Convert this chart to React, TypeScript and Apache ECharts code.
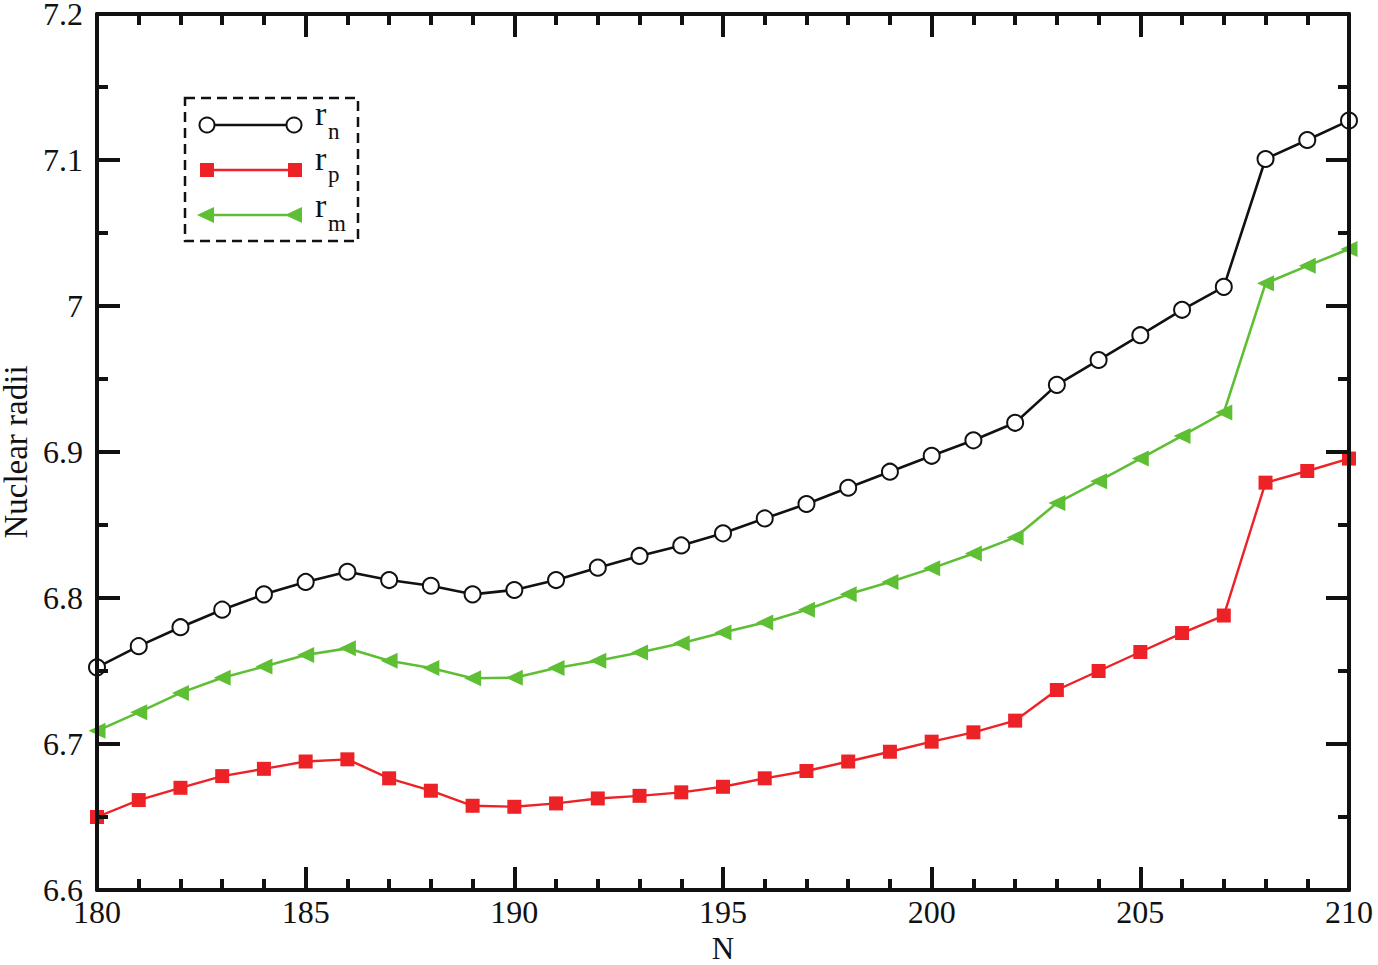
import React, { useEffect, useRef } from "react";
import * as echarts from "echarts";

const N: number[] = [
  180, 181, 182, 183, 184, 185, 186, 187, 188, 189, 190,
  191, 192, 193, 194, 195, 196, 197, 198, 199, 200,
  201, 202, 203, 204, 205, 206, 207, 208, 209, 210,
];
const rn: number[] = [
  6.7525, 6.767, 6.78, 6.792, 6.8025, 6.811, 6.818, 6.8123, 6.8084, 6.8025, 6.8055,
  6.8123, 6.8208, 6.8288, 6.836, 6.8443, 6.8545, 6.8644, 6.8755, 6.8865, 6.8974,
  6.908, 6.92, 6.946, 6.963, 6.98, 6.9974, 7.0131, 7.1007, 7.1137, 7.127,
];
const rp: number[] = [
  6.65, 6.6616, 6.67, 6.678, 6.683, 6.688, 6.6895, 6.6765, 6.668, 6.6577, 6.657,
  6.6593, 6.6627, 6.6645, 6.6669, 6.6707, 6.6765, 6.6815, 6.688, 6.6947, 6.7016,
  6.708, 6.716, 6.737, 6.75, 6.763, 6.776, 6.788, 6.879, 6.887, 6.8955,
];
const rm: number[] = [
  6.709, 6.7217, 6.735, 6.7454, 6.753, 6.761, 6.7655, 6.757, 6.752, 6.745, 6.7454,
  6.752, 6.757, 6.7627, 6.769, 6.7764, 6.7833, 6.792, 6.8025, 6.811, 6.8203,
  6.8305, 6.8415, 6.865, 6.88, 6.8955, 6.911, 6.927, 7.0155, 7.0275, 7.039,
];
const legendNames: string[] = ["n", "p", "m"];

const FONT = "'Liberation Serif', 'DejaVu Serif', serif";
const AX = "#111111";
const RED = "#ec2227";
const GREEN = "#5fbf34";

function pairs(ys: number[]): number[][] {
  return N.map((x, i) => [x, ys[i]]);
}

export default function App() {
  const ref = useRef<HTMLDivElement>(null);
  useEffect(() => {
    if (!ref.current) return;
    const chart = echarts.init(ref.current, undefined, { renderer: "svg" });

    const axisCommon = {
      axisLine: { show: true, onZero: false, lineStyle: { color: AX, width: 4 } },
      axisTick: { show: true, inside: true, length: 23, lineStyle: { color: AX, width: 4 } },
      splitLine: { show: false },
      z: 10,
    };
    const labelStyle = { fontSize: 32, fontFamily: FONT, color: AX };

    const rowY = [125, 170, 215];
    const legendGraphics: any[] = [
      {
        type: "rect",
        shape: { x: 185, y: 98, width: 173, height: 143 },
        style: { fill: "none", stroke: AX, lineWidth: 2.5, lineDash: [10, 6] },
        z: 100,
      },
      { type: "line", shape: { x1: 207, y1: rowY[0], x2: 294, y2: rowY[0] }, style: { stroke: AX, lineWidth: 2.5 }, z: 100 },
      { type: "circle", shape: { cx: 207, cy: rowY[0], r: 7.5 }, style: { fill: "#fff", stroke: AX, lineWidth: 2 }, z: 101 },
      { type: "circle", shape: { cx: 294, cy: rowY[0], r: 7.5 }, style: { fill: "#fff", stroke: AX, lineWidth: 2 }, z: 101 },
      { type: "line", shape: { x1: 207, y1: rowY[1], x2: 294, y2: rowY[1] }, style: { stroke: RED, lineWidth: 2.5 }, z: 100 },
      { type: "rect", shape: { x: 200, y: rowY[1] - 7, width: 14, height: 14 }, style: { fill: RED }, z: 101 },
      { type: "rect", shape: { x: 288, y: rowY[1] - 7, width: 14, height: 14 }, style: { fill: RED }, z: 101 },
      { type: "line", shape: { x1: 207, y1: rowY[2], x2: 294, y2: rowY[2] }, style: { stroke: GREEN, lineWidth: 2.5 }, z: 100 },
      { type: "polygon", shape: { points: [[197, rowY[2]], [214, rowY[2] - 8], [214, rowY[2] + 8]] }, style: { fill: GREEN }, z: 101 },
      { type: "polygon", shape: { points: [[285, rowY[2]], [302, rowY[2] - 8], [302, rowY[2] + 8]] }, style: { fill: GREEN }, z: 101 },
    ];
    const rMid = [113, 158, 205];
    const subMid = [131, 174, 223];
    legendNames.forEach((s, i) => {
      legendGraphics.push({
        type: "text",
        x: 315,
        y: rMid[i],
        style: { text: "r", font: `34px ${FONT}`, fill: AX, verticalAlign: "middle", align: "left" },
        z: 101,
      });
      legendGraphics.push({
        type: "text",
        x: 328,
        y: subMid[i],
        style: { text: s, font: `23px ${FONT}`, fill: AX, verticalAlign: "middle", align: "left" },
        z: 101,
      });
    });

    chart.setOption({
      animation: false,
      backgroundColor: "#ffffff",
      grid: { left: 97, right: 29, top: 14, bottom: 75, containLabel: false, outerBoundsMode: "none" },
      xAxis: [
        {
          type: "value",
          min: 180,
          max: 210,
          interval: 5,
          position: "bottom",
          ...axisCommon,
          minorTick: { show: true, splitNumber: 5, length: 11, lineStyle: { color: AX, width: 4 } },
          axisLabel: { ...labelStyle, margin: 6 },
          name: "N",
          nameLocation: "middle",
          nameGap: 39,
          nameTextStyle: { ...labelStyle, fontSize: 31 },
        },
        {
          type: "value",
          min: 180,
          max: 210,
          interval: 5,
          position: "top",
          ...axisCommon,
          minorTick: { show: true, splitNumber: 5, length: 11, lineStyle: { color: AX, width: 4 } },
          axisLabel: { show: false },
        },
      ],
      yAxis: [
        {
          type: "value",
          min: 6.6,
          max: 7.2,
          interval: 0.1,
          position: "left",
          ...axisCommon,
          minorTick: { show: true, splitNumber: 2, length: 11, lineStyle: { color: AX, width: 4 } },
          axisLabel: { ...labelStyle, margin: 14 },
          name: "Nuclear radii",
          nameLocation: "middle",
          nameGap: 65,
          nameTextStyle: { ...labelStyle, fontSize: 33 },
        },
        {
          type: "value",
          min: 6.6,
          max: 7.2,
          interval: 0.1,
          position: "right",
          ...axisCommon,
          minorTick: { show: true, splitNumber: 2, length: 11, lineStyle: { color: AX, width: 4 } },
          axisLabel: { show: false },
        },
      ],
      series: [
        {
          name: "rn",
          type: "line",
          data: pairs(rn),
          symbol: "circle",
          symbolSize: 16,
          lineStyle: { color: AX, width: 2.6 },
          itemStyle: { color: "#ffffff", borderColor: AX, borderWidth: 2 },
          z: 4,
        },
        {
          name: "rp",
          type: "line",
          data: pairs(rp),
          symbol: "rect",
          symbolSize: 14,
          lineStyle: { color: RED, width: 2.4 },
          itemStyle: { color: RED },
          z: 3,
        },
        {
          name: "rm",
          type: "line",
          data: pairs(rm),
          symbol: "triangle",
          symbolSize: [16, 17],
          symbolRotate: 90,
          lineStyle: { color: GREEN, width: 2.6 },
          itemStyle: { color: GREEN },
          z: 3,
        },
      ],
      graphic: legendGraphics,
    });

    return () => {
      chart.dispose();
    };
  }, []);

  return (
    <div
      ref={ref}
      style={{ position: "absolute", left: 0, top: 0, width: 1378, height: 965, background: "#fff" }}
    />
  );
}
